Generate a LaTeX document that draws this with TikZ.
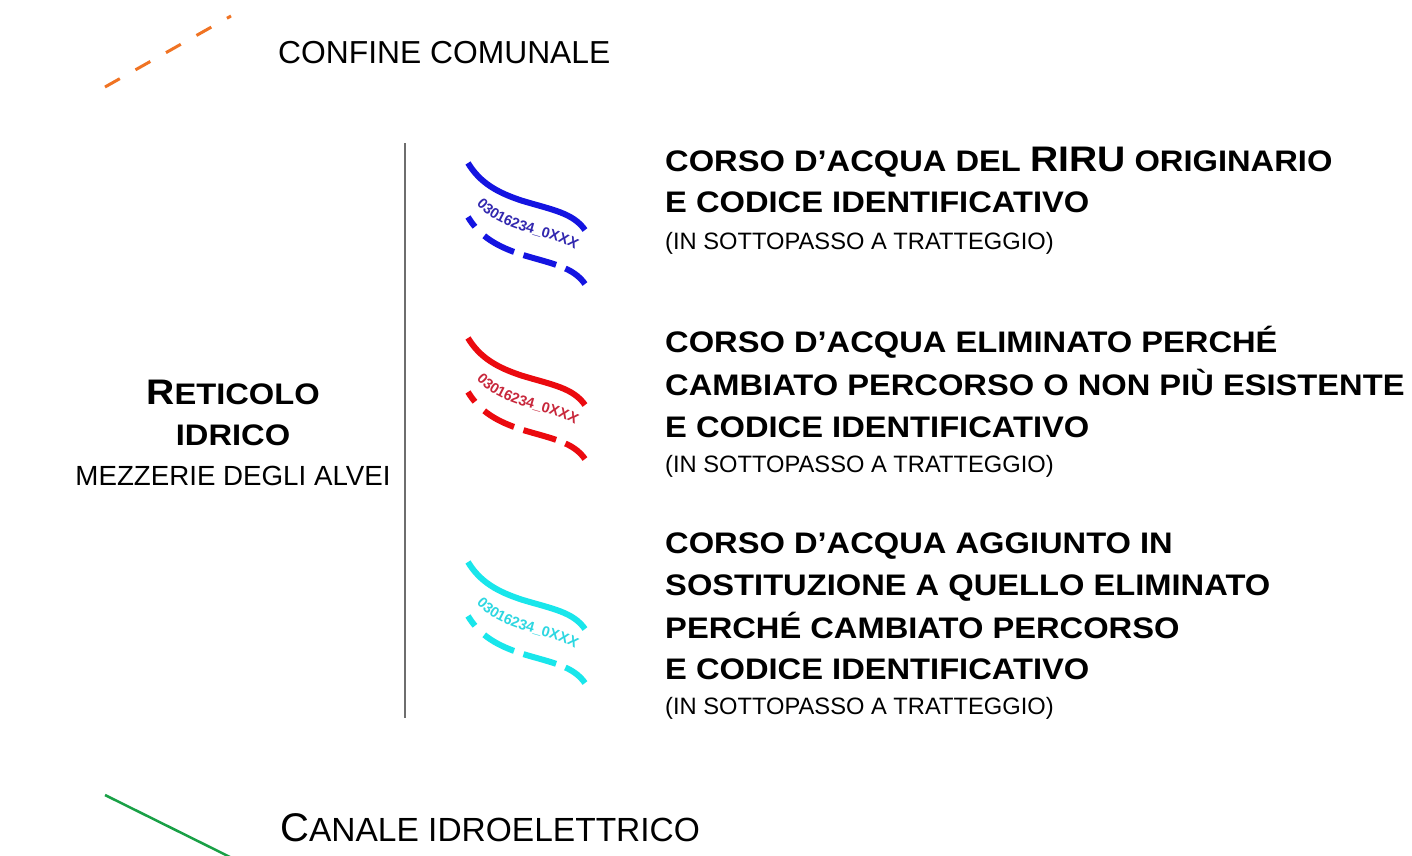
\documentclass[tikz,border=0pt]{standalone}
\usepackage{fontspec}
\setmainfont{Liberation Sans}
\newfontfamily\wideb{Liberation Sans}[FakeStretch=1.1]
\usetikzlibrary{decorations.text}
\definecolor{confine}{RGB}{240,115,35}
\definecolor{canale}{RGB}{25,160,70}
\definecolor{riruL}{RGB}{20,20,225}
\definecolor{riruT}{RGB}{50,40,175}
\definecolor{elimL}{RGB}{235,10,15}
\definecolor{elimT}{RGB}{200,40,60}
\definecolor{aggL}{RGB}{25,230,235}
\definecolor{aggT}{RGB}{45,215,225}
\definecolor{sep}{RGB}{110,110,110}
\newcommand\bsmall{\wideb\bfseries\fontsize{29.7}{32}\selectfont}
\newcommand\bbig{\fontsize{35.5}{32}\selectfont}
\newcommand\rsmall{\fontsize{33.5}{34}\selectfont}
\newcommand\rbig{\fontsize{40}{34}\selectfont}
\newcommand\rnote{\fontsize{23.7}{26}\selectfont}
\newcommand\rlabel{\fontsize{31.8}{34}\selectfont}
\newcommand\codefont{\bfseries\fontsize{14.5}{16}\selectfont}
\newcommand\riverSymbol[4]{%
  \begin{scope}[shift={(#1,#2)}]
    \draw[riverline,#3] (0,0) .. controls (12,20) and (30,30) .. (55,38)
      .. controls (85,47) and (105,50) .. (117,67);
    \draw[riverline,#3,dash pattern=on 12pt off 13pt on 34pt off 10pt on 34pt off 10pt on 60pt]
      (0,54) .. controls (12,74) and (30,84) .. (55,92)
      .. controls (85,101) and (105,104) .. (117,121);
    \path[decorate,decoration={text along path,text align=center,
      text={|\codefont\color{#4}|03016234{\_}0XXX}}]
      (0,30) .. controls (12,50) and (30,60) .. (55,68)
      .. controls (85,77) and (105,80) .. (117,97);
  \end{scope}}
\begin{document}
\begin{tikzpicture}[x=1pt,y=-1pt,
  riverline/.style={line width=6pt},
  title/.style={anchor=base west,inner sep=0pt,font=\bsmall},
  note/.style={anchor=base west,inner sep=0pt,font=\rnote},
  left/.style={anchor=base,inner sep=0pt}]
\useasboundingbox[fill=white] (0,0) rectangle (1412,855);

% confine comunale
\coordinate (cA) at (105,87);
\coordinate (cB) at (231,16);
\draw[confine,line width=3pt,dash pattern=on 17pt off 18pt] (cA) -- (cB);
\node[anchor=base west,inner sep=0pt,font=\rlabel] (confine) at (278,63) {CONFINE COMUNALE};

% reticolo idrico
\node[left,font=\bsmall] (ret) at (233,404) {{\bbig R}ETICOLO};
\node[left,font=\bsmall] (idr) at (233,445) {IDRICO};
\node[left,font=\fontsize{27.7}{30}\selectfont] (mez) at (233,485) {MEZZERIE DEGLI ALVEI};
\coordinate (sepT) at (405,143);
\coordinate (sepB) at (405,718);
\draw[sep,line width=1.5pt] (sepT) -- (sepB);

% symbols
\riverSymbol{468}{163}{riruL}{riruT}
\riverSymbol{468}{338}{elimL}{elimT}
\riverSymbol{468}{562}{aggL}{aggT}

% block 1
\node[title] (a1) at (665,171) {CORSO D’ACQUA DEL {\bbig RIRU} ORIGINARIO};
\node[title] (a2) at (665,212) {E CODICE IDENTIFICATIVO};
\node[note]  (a3) at (665,249) {(IN SOTTOPASSO A TRATTEGGIO)};
% block 2
\node[title] (b1) at (665,352) {CORSO D’ACQUA ELIMINATO PERCHÉ};
\node[title] (b2) at (665,395) {CAMBIATO PERCORSO O NON PIÙ ESISTENTE};
\node[title] (b3) at (665,437) {E CODICE IDENTIFICATIVO};
\node[note]  (b4) at (665,472) {(IN SOTTOPASSO A TRATTEGGIO)};
% block 3
\node[title] (c1) at (665,553) {CORSO D’ACQUA AGGIUNTO IN};
\node[title] (c2) at (665,595) {SOSTITUZIONE A QUELLO ELIMINATO};
\node[title] (c3) at (665,638) {PERCHÉ CAMBIATO PERCORSO};
\node[title] (c4) at (665,679) {E CODICE IDENTIFICATIVO};
\node[note]  (c5) at (665,714) {(IN SOTTOPASSO A TRATTEGGIO)};

% canale idroelettrico
\coordinate (gA) at (105,795);
\coordinate (gB) at (232,858);
\draw[canale,line width=2.5pt] (gA) -- (gB);
\node[anchor=base west,inner sep=0pt,font=\rsmall] (canale) at (280,841) {{\rbig C}ANALE IDROELETTRICO};
\end{tikzpicture}
\end{document}
